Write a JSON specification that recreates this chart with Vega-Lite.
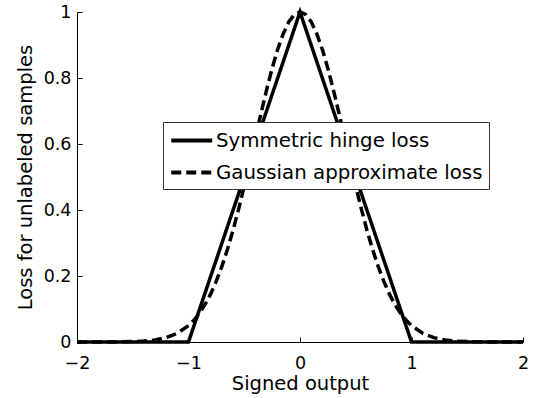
{
  "$schema": "https://vega.github.io/schema/vega-lite/v6.json",
  "width": 446,
  "height": 330,
  "autosize": {"type": "none"},
  "padding": {"left": 77, "top": 12, "right": 12, "bottom": 56},
  "background": "white",
  "config": {
    "view": {"stroke": null},
    "font": "DejaVu Sans",
    "axis": {
      "domainColor": "black", "domainWidth": 1,
      "tickColor": "black", "tickWidth": 1, "tickSize": -5,
      "labelColor": "black", "titleColor": "black", "grid": false,
      "labelFont": "DejaVu Sans", "titleFont": "DejaVu Sans",
      "titleFontWeight": "normal", "labelFontSize": 17.5, "titleFontSize": 19.5,
      "labelOverlap": false
    }
  },
  "data": {"values": [
    {"series": "Symmetric hinge loss", "x": -2, "y": 0},
    {"series": "Symmetric hinge loss", "x": -1, "y": 0},
    {"series": "Symmetric hinge loss", "x": 0, "y": 1},
    {"series": "Symmetric hinge loss", "x": 1, "y": 0},
    {"series": "Symmetric hinge loss", "x": 2, "y": 0},
    {"series": "Gaussian approximate loss", "x": -2, "y": 0},
    {"series": "Gaussian approximate loss", "x": -1.9, "y": 0},
    {"series": "Gaussian approximate loss", "x": -1.8, "y": 0.0001},
    {"series": "Gaussian approximate loss", "x": -1.7, "y": 0.0002},
    {"series": "Gaussian approximate loss", "x": -1.6, "y": 0.0005},
    {"series": "Gaussian approximate loss", "x": -1.5, "y": 0.0012},
    {"series": "Gaussian approximate loss", "x": -1.4, "y": 0.0028},
    {"series": "Gaussian approximate loss", "x": -1.3, "y": 0.0063},
    {"series": "Gaussian approximate loss", "x": -1.2, "y": 0.0133},
    {"series": "Gaussian approximate loss", "x": -1.1, "y": 0.0265},
    {"series": "Gaussian approximate loss", "x": -1.0, "y": 0.0498},
    {"series": "Gaussian approximate loss", "x": -0.95, "y": 0.0667},
    {"series": "Gaussian approximate loss", "x": -0.9, "y": 0.088},
    {"series": "Gaussian approximate loss", "x": -0.85, "y": 0.1145},
    {"series": "Gaussian approximate loss", "x": -0.8, "y": 0.1466},
    {"series": "Gaussian approximate loss", "x": -0.75, "y": 0.185},
    {"series": "Gaussian approximate loss", "x": -0.7, "y": 0.2299},
    {"series": "Gaussian approximate loss", "x": -0.65, "y": 0.2815},
    {"series": "Gaussian approximate loss", "x": -0.6, "y": 0.3396},
    {"series": "Gaussian approximate loss", "x": -0.55, "y": 0.4035},
    {"series": "Gaussian approximate loss", "x": -0.5, "y": 0.4724},
    {"series": "Gaussian approximate loss", "x": -0.45, "y": 0.5447},
    {"series": "Gaussian approximate loss", "x": -0.4, "y": 0.6188},
    {"series": "Gaussian approximate loss", "x": -0.35, "y": 0.6925},
    {"series": "Gaussian approximate loss", "x": -0.3, "y": 0.7634},
    {"series": "Gaussian approximate loss", "x": -0.25, "y": 0.829},
    {"series": "Gaussian approximate loss", "x": -0.2, "y": 0.8869},
    {"series": "Gaussian approximate loss", "x": -0.15, "y": 0.9347},
    {"series": "Gaussian approximate loss", "x": -0.1, "y": 0.9704},
    {"series": "Gaussian approximate loss", "x": -0.05, "y": 0.9925},
    {"series": "Gaussian approximate loss", "x": 0, "y": 1},
    {"series": "Gaussian approximate loss", "x": 0.05, "y": 0.9925},
    {"series": "Gaussian approximate loss", "x": 0.1, "y": 0.9704},
    {"series": "Gaussian approximate loss", "x": 0.15, "y": 0.9347},
    {"series": "Gaussian approximate loss", "x": 0.2, "y": 0.8869},
    {"series": "Gaussian approximate loss", "x": 0.25, "y": 0.829},
    {"series": "Gaussian approximate loss", "x": 0.3, "y": 0.7634},
    {"series": "Gaussian approximate loss", "x": 0.35, "y": 0.6925},
    {"series": "Gaussian approximate loss", "x": 0.4, "y": 0.6188},
    {"series": "Gaussian approximate loss", "x": 0.45, "y": 0.5447},
    {"series": "Gaussian approximate loss", "x": 0.5, "y": 0.4724},
    {"series": "Gaussian approximate loss", "x": 0.55, "y": 0.4035},
    {"series": "Gaussian approximate loss", "x": 0.6, "y": 0.3396},
    {"series": "Gaussian approximate loss", "x": 0.65, "y": 0.2815},
    {"series": "Gaussian approximate loss", "x": 0.7, "y": 0.2299},
    {"series": "Gaussian approximate loss", "x": 0.75, "y": 0.185},
    {"series": "Gaussian approximate loss", "x": 0.8, "y": 0.1466},
    {"series": "Gaussian approximate loss", "x": 0.85, "y": 0.1145},
    {"series": "Gaussian approximate loss", "x": 0.9, "y": 0.088},
    {"series": "Gaussian approximate loss", "x": 0.95, "y": 0.0667},
    {"series": "Gaussian approximate loss", "x": 1.0, "y": 0.0498},
    {"series": "Gaussian approximate loss", "x": 1.1, "y": 0.0265},
    {"series": "Gaussian approximate loss", "x": 1.2, "y": 0.0133},
    {"series": "Gaussian approximate loss", "x": 1.3, "y": 0.0063},
    {"series": "Gaussian approximate loss", "x": 1.4, "y": 0.0028},
    {"series": "Gaussian approximate loss", "x": 1.5, "y": 0.0012},
    {"series": "Gaussian approximate loss", "x": 1.6, "y": 0.0005},
    {"series": "Gaussian approximate loss", "x": 1.7, "y": 0.0002},
    {"series": "Gaussian approximate loss", "x": 1.8, "y": 0.0001},
    {"series": "Gaussian approximate loss", "x": 1.9, "y": 0},
    {"series": "Gaussian approximate loss", "x": 2, "y": 0}
  ]},
  "mark": {"type": "line", "strokeWidth": 3.5, "color": "black"},
  "encoding": {
    "x": {
      "field": "x", "type": "quantitative",
      "scale": {"domain": [-2, 2], "nice": false, "zero": false},
      "axis": {"values": [-2, -1, 0, 1, 2], "format": "~g", "title": "Signed output",
               "labelPadding": 17, "labelFlush": false, "titleY": 32, "titleBaseline": "top"}
    },
    "y": {
      "field": "y", "type": "quantitative",
      "scale": {"domain": [0, 1], "nice": false},
      "axis": {"values": [0, 0.2, 0.4, 0.6, 0.8, 1], "format": "~g", "title": "Loss for unlabeled samples",
               "labelPadding": 11, "titleX": -42, "titleBaseline": "bottom"}
    },
    "strokeDash": {
      "field": "series", "type": "nominal",
      "scale": {"domain": ["Symmetric hinge loss", "Gaussian approximate loss"], "range": [[1, 0], [10, 5]]},
      "legend": {
        "title": null, "orient": "none", "legendX": 86, "legendY": 110,
        "fillColor": "white", "strokeColor": "#333", "padding": 6,
        "symbolType": "M-1,0H3", "symbolSize": 420, "symbolStrokeWidth": 4,
        "symbolStrokeColor": "black", "symbolFillColor": "transparent",
        "labelFontSize": 19.8, "labelFont": "DejaVu Sans",
        "labelColor": "black", "labelOffset": 22, "rowPadding": 9, "labelLimit": 400
      }
    }
  }
}
